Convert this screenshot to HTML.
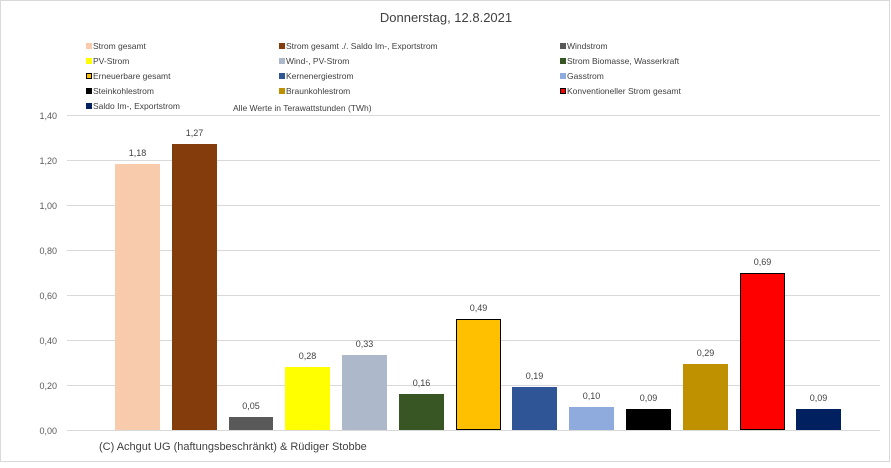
<!DOCTYPE html>
<html><head><meta charset="utf-8"><style>
body{margin:0;background:#fff;font-family:"Liberation Sans",sans-serif;}
</style></head><body>
<svg width="891" height="463" xmlns="http://www.w3.org/2000/svg" font-family="Liberation Sans, sans-serif">
<rect x="0.5" y="0.5" width="889" height="461" fill="#fff" stroke="#d9d9d9"/>
<text x="446" y="22" font-size="13" text-anchor="middle" fill="#404040">Donnerstag, 12.8.2021</text>
<g font-size="8.5" fill="#404040">
<rect x="86" y="43" width="6" height="6" fill="#f8cbad"/><text x="93" y="49">Strom gesamt</text>
<rect x="86" y="58" width="6" height="6" fill="#ffff00"/><text x="93" y="64">PV-Strom</text>
<rect x="86.5" y="73.5" width="5" height="5" fill="#ffc000" stroke="#000"/><text x="93" y="79">Erneuerbare gesamt</text>
<rect x="86" y="88" width="6" height="6" fill="#000"/><text x="93" y="94">Steinkohlestrom</text>
<rect x="86" y="103" width="6" height="6" fill="#002060"/><text x="93" y="109">Saldo Im-, Exportstrom</text>
<rect x="279" y="43" width="6" height="6" fill="#843c0c"/><text x="286" y="49">Strom gesamt ./. Saldo Im-, Exportstrom</text>
<rect x="279" y="58" width="6" height="6" fill="#adb9ca"/><text x="286" y="64">Wind-, PV-Strom</text>
<rect x="279" y="73" width="6" height="6" fill="#2f5597"/><text x="286" y="79">Kernenergiestrom</text>
<rect x="279" y="88" width="6" height="6" fill="#bf9000"/><text x="286" y="94">Braunkohlestrom</text>
<text x="233" y="111" font-size="8.5">Alle Werte in Terawattstunden (TWh)</text>
<rect x="560" y="43" width="6" height="6" fill="#595959"/><text x="567" y="49">Windstrom</text>
<rect x="560" y="58" width="6" height="6" fill="#375623"/><text x="567" y="64">Strom Biomasse, Wasserkraft</text>
<rect x="560" y="73" width="6" height="6" fill="#8faadc"/><text x="567" y="79">Gasstrom</text>
<rect x="560.5" y="88.5" width="5" height="5" fill="#ff0000" stroke="#000"/><text x="567" y="94">Konventioneller Strom gesamt</text>
</g>
<g stroke="#d9d9d9" stroke-width="1">
<line x1="67" x2="880" y1="430.5" y2="430.5"/><line x1="67" x2="880" y1="385.5" y2="385.5"/>
<line x1="67" x2="880" y1="340.5" y2="340.5"/><line x1="67" x2="880" y1="295.5" y2="295.5"/>
<line x1="67" x2="880" y1="250.5" y2="250.5"/><line x1="67" x2="880" y1="205.5" y2="205.5"/>
<line x1="67" x2="880" y1="160.5" y2="160.5"/><line x1="67" x2="880" y1="115.5" y2="115.5"/>
</g>
<g font-size="9" fill="#595959" text-anchor="end">
<text x="57" y="434">0,00</text><text x="57" y="389">0,20</text><text x="57" y="344">0,40</text>
<text x="57" y="299">0,60</text><text x="57" y="254">0,80</text><text x="57" y="209">1,00</text>
<text x="57" y="164">1,20</text><text x="57" y="119">1,40</text>
</g>
<g font-size="9" fill="#404040" text-anchor="middle">
<rect x="115" y="164" width="45" height="266" fill="#f8cbad"/><text x="137.5" y="156">1,18</text>
<rect x="172" y="144" width="45" height="286" fill="#843c0c"/><text x="194.5" y="136">1,27</text>
<rect x="229" y="417" width="44" height="13" fill="#595959"/><text x="251" y="409">0,05</text>
<rect x="285" y="367" width="45" height="63" fill="#ffff00"/><text x="307.5" y="359">0,28</text>
<rect x="342" y="355" width="45" height="75" fill="#adb9ca"/><text x="364.5" y="347">0,33</text>
<rect x="399" y="394" width="45" height="36" fill="#375623"/><text x="421.5" y="386">0,16</text>
<rect x="456.5" y="319.5" width="44" height="110" fill="#ffc000" stroke="#000"/><text x="478.5" y="311">0,49</text>
<rect x="512" y="387" width="45" height="43" fill="#2f5597"/><text x="534.5" y="379">0,19</text>
<rect x="569" y="407" width="45" height="23" fill="#8faadc"/><text x="591.5" y="399">0,10</text>
<rect x="626" y="409" width="45" height="21" fill="#000"/><text x="648.5" y="401">0,09</text>
<rect x="683" y="364" width="45" height="66" fill="#bf9000"/><text x="705.5" y="356">0,29</text>
<rect x="740.5" y="273.5" width="44" height="156" fill="#ff0000" stroke="#000"/><text x="762.5" y="265">0,69</text>
<rect x="796" y="409" width="45" height="21" fill="#002060"/><text x="818.5" y="401">0,09</text>
</g>
<text x="99" y="450" font-size="11" fill="#404040">(C) Achgut UG (haftungsbeschränkt) &amp; Rüdiger Stobbe</text>
</svg>
</body></html>
